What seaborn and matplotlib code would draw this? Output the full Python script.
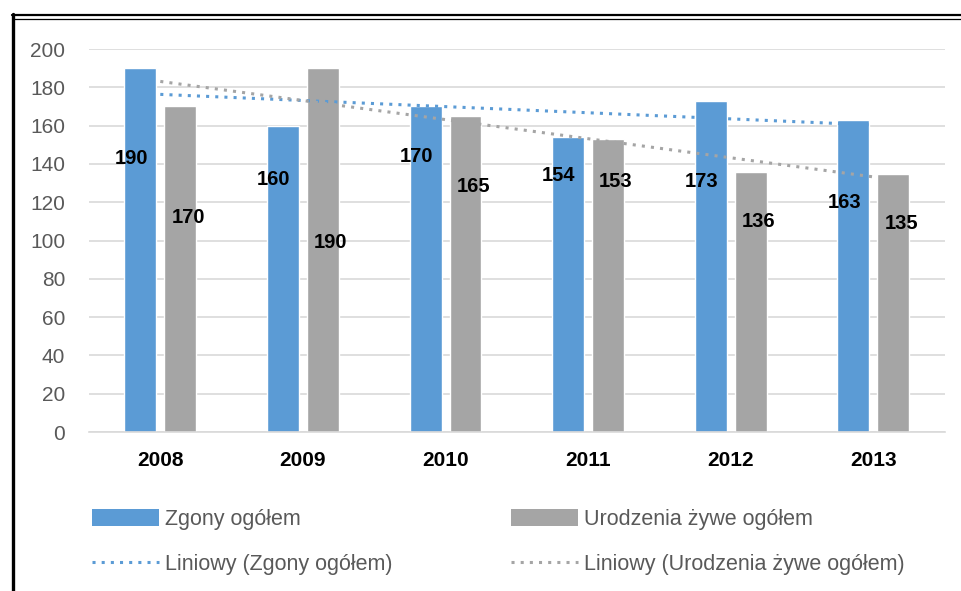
import numpy as np
import pandas as pd
import matplotlib
matplotlib.use("Agg")
import matplotlib.pyplot as plt
import seaborn as sns
from matplotlib.lines import Line2D
from matplotlib.patches import Patch

years = ["2008", "2009", "2010", "2011", "2012", "2013"]
zgony = [190, 160, 170, 154, 173, 163]
urodzenia = [170, 190, 165, 153, 136, 135]
series_names = ["Zgony ogółem", "Urodzenia żywe ogółem"]
trend_names = ["Liniowy (Zgony ogółem)", "Liniowy (Urodzenia żywe ogółem)"]
yticks = [0, 20, 40, 60, 80, 100, 120, 140, 160, 180, 200]

# label layout (vertical centre of each data label, in axis units)
label_y_zgony = [143, 132, 144, 134, 131, 120]
label_y_urodzenia = [112, 99, 128, 131, 110, 109]

BLUE = "#5b9bd5"
GRAY = "#a5a5a5"
TXT = "#595959"

sns.set_theme(style="white")
plt.rcParams["font.family"] = ["Liberation Sans", "DejaVu Sans"]

df = pd.DataFrame({
    "rok": years * 2,
    "wartosc": zgony + urodzenia,
    "seria": [series_names[0]] * len(years) + [series_names[1]] * len(years),
})

fig = plt.figure(figsize=(9.62, 5.91), dpi=100)
ax = fig.add_axes([0.0925, 0.269, 0.8895, 0.648])

sns.barplot(data=df, x="rok", y="wartosc", hue="seria", order=years,
            hue_order=series_names, palette=[BLUE, GRAY], width=0.56, gap=0.2,
            saturation=1, legend=False, ax=ax, errorbar=None)

# linear trend lines
xs = np.arange(len(years))
for vals, col in [(zgony, BLUE), (urodzenia, GRAY)]:
    k, b = np.polyfit(xs, vals, 1)
    ax.plot(xs, k * xs + b, color=col, lw=2.2, linestyle=(0, (1, 2)),
            dash_capstyle="butt", zorder=4)

# data labels
for i in range(len(years)):
    ax.text(i - 0.205, label_y_zgony[i], str(zgony[i]), ha="center", va="center",
            fontsize=14.5, fontweight="bold", color="black", zorder=5)
    ax.text(i + 0.195, label_y_urodzenia[i], str(urodzenia[i]), ha="center", va="center",
            fontsize=14.5, fontweight="bold", color="black", zorder=5)

ax.set_xlim(-0.5, len(years) - 0.5)
ax.set_ylim(0, 200)
ax.set_yticks(yticks)
ax.yaxis.grid(True, color="#d9d9d9", lw=1.2)
ax.set_axisbelow(True)
for s in ["top", "right", "left"]:
    ax.spines[s].set_visible(False)
ax.spines["bottom"].set_color("#d9d9d9")
ax.spines["bottom"].set_linewidth(1.2)
ax.set_xlabel("")
ax.set_ylabel("")
ax.tick_params(axis="y", length=0, pad=17, labelsize=15, labelcolor=TXT)
ax.tick_params(axis="x", length=0, pad=14, labelsize=15, labelcolor="black")
for t in ax.get_xticklabels():
    t.set_fontweight("bold")

# legends
h1 = [Patch(facecolor=BLUE, edgecolor="none", label=series_names[0]),
      Line2D([], [], color=BLUE, lw=2.2, linestyle=(0, (1, 2)), label=trend_names[0])]
h2 = [Patch(facecolor=GRAY, edgecolor="none", label=series_names[1]),
      Line2D([], [], color=GRAY, lw=2.2, linestyle=(0, (1, 2)), label=trend_names[1])]
for handles, xpos in [(h1, 0.087), (h2, 0.522)]:
    leg = fig.legend(handles=handles, loc="upper left", bbox_to_anchor=(xpos, 0.154),
                     frameon=False, fontsize=15.5, handlelength=3.1, handleheight=0.9,
                     handletextpad=0.3, labelspacing=1.1, borderaxespad=0)
    for t in leg.get_texts():
        t.set_color(TXT)

# outer frame
W, H = 962, 591
fig.add_artist(Line2D([12 / W, 1], [1 - 14.5 / H, 1 - 14.5 / H], color="black", lw=1.6,
                      transform=fig.transFigure))
fig.add_artist(Line2D([14 / W, 1], [1 - 18.5 / H, 1 - 18.5 / H], color="black", lw=0.9,
                      transform=fig.transFigure))
fig.add_artist(Line2D([13 / W, 13 / W], [0, 1 - 14 / H], color="black", lw=2.4,
                      transform=fig.transFigure))

fig.savefig("out.png", dpi=100, facecolor="white")
